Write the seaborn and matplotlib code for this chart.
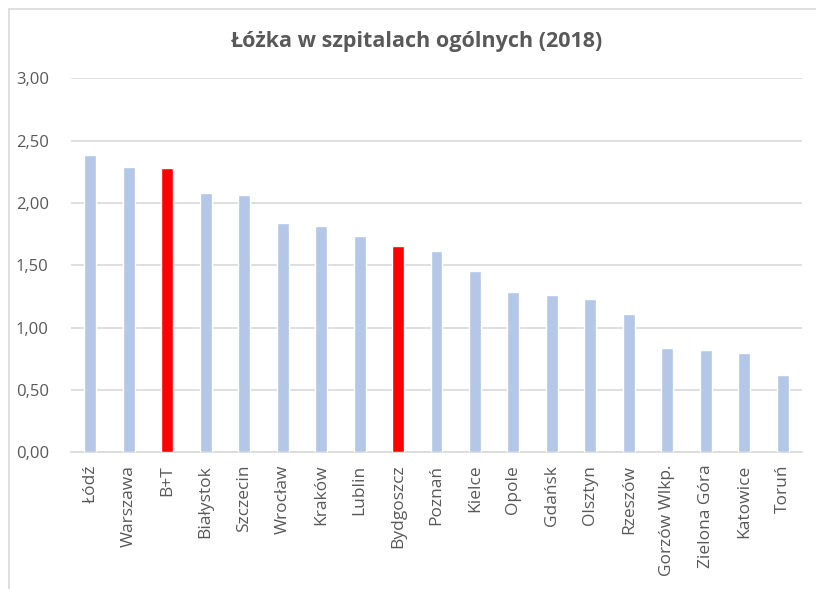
import matplotlib
matplotlib.use('Agg')
import matplotlib.pyplot as plt
import seaborn as sns
import pandas as pd
from matplotlib.lines import Line2D
from matplotlib.ticker import FuncFormatter

cities = ['Łódź', 'Warszawa', 'B+T', 'Białystok', 'Szczecin', 'Wrocław', 'Kraków',
          'Lublin', 'Bydgoszcz', 'Poznań', 'Kielce', 'Opole', 'Gdańsk', 'Olsztyn',
          'Rzeszów', 'Gorzów Wlkp.', 'Zielona Góra', 'Katowice', 'Toruń']
beds = [2.385, 2.286, 2.278, 2.077, 2.064, 1.837, 1.815, 1.735, 1.657, 1.615,
        1.457, 1.286, 1.262, 1.227, 1.107, 0.834, 0.821, 0.799, 0.620]
highlight = ['B+T', 'Bydgoszcz']

sns.set_theme(style="white")
plt.rcParams['font.family'] = ['Open Sans', 'DejaVu Sans']

df = pd.DataFrame({'miasto': cities, 'lozka': beds})
palette = {c: ('#FF0000' if c in highlight else '#B4C7E7') for c in cities}

fig = plt.figure(figsize=(8.16, 5.89), dpi=100)
ax = fig.add_axes([71 / 816, 1 - 452.3 / 589, (802 - 71) / 816, (452.3 - 78.3) / 589])

sns.barplot(data=df, x='miasto', y='lozka', hue='miasto', palette=palette, saturation=1,
            dodge=False, legend=False, width=0.31, ax=ax, zorder=3)

ax.set_ylim(0, 3)
ax.set_yticks([0, 0.5, 1, 1.5, 2, 2.5, 3])
ax.yaxis.set_major_formatter(FuncFormatter(lambda v, p: f"{v:.2f}".replace('.', ',')))
ax.grid(axis='y', color='#D9D9D9', linewidth=1.2, zorder=0)
ax.set_axisbelow(True)
for s in ['top', 'right', 'left']:
    ax.spines[s].set_visible(False)
ax.spines['bottom'].set_color('#D9D9D9')
ax.spines['bottom'].set_linewidth(1.2)
ax.tick_params(axis='y', length=0, colors='#595959', labelsize=12, pad=16)
ax.tick_params(axis='x', length=0, colors='#595959', labelsize=12.5, pad=9)
plt.setp(ax.get_xticklabels(), rotation=90)
ax.set_xlabel('')
ax.set_ylabel('')

fig.text(416 / 816, 1 - 42 / 589, 'Łóżka w szpitalach ogólnych (2018)', ha='center', va='center',
         fontsize=15.5, fontweight='bold', color='#595959')

# chart frame (top and left edges visible)
fig.add_artist(Line2D([8.5 / 816, 1], [1 - 8.5 / 589, 1 - 8.5 / 589], color='#D9D9D9', linewidth=1.2))
fig.add_artist(Line2D([8.5 / 816, 8.5 / 816], [0, 1 - 8.5 / 589], color='#D9D9D9', linewidth=1.2))

fig.savefig('out.png', dpi=100)
